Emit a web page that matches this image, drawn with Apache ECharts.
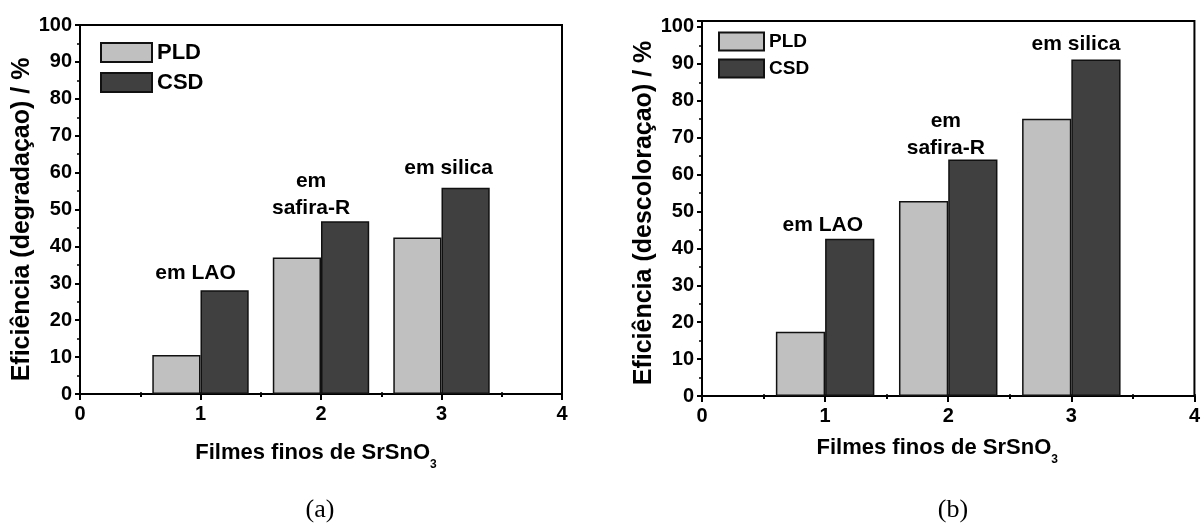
<!DOCTYPE html>
<html>
<head>
<meta charset="utf-8">
<script src="https://cdn.jsdelivr.net/npm/echarts@6/dist/echarts.min.js"></script>
<style>
html, body { margin: 0; padding: 0; background: #fff; }
#main { width: 1203px; height: 530px; }
</style>
</head>
<body>
<div id="main"></div>
<script>
// dados
var positions = [1, 2, 3];
var substrates = ['em LAO', 'em\nsafira-R', 'em silica'];
var pldDegradacao = [10.6, 37.0, 42.4];
var csdDegradacao = [28.1, 46.8, 55.9];
var pldDescoloracao = [17.4, 52.8, 75.1];
var csdDescoloracao = [42.6, 64.1, 91.2];
var xRange = [0, 4];
var yRangeA = [0, 100];
var yRangeB = [0, 101.6];

var FONT = '"Liberation Sans", Arial, sans-serif';
var black = '#000';

function bottomAxis(gridIndex, nameGap, pad) {
    return {
        type: 'value', gridIndex: gridIndex, position: 'bottom',
        min: xRange[0], max: xRange[1], interval: 1,
        axisLine: { show: true, onZero: false, lineStyle: { color: black, width: 2 } },
        axisTick: { show: true, length: 6, lineStyle: { color: black, width: 2 } },
        minorTick: { show: true, splitNumber: 2, length: 3, lineStyle: { color: black, width: 2 } },
        splitLine: { show: false },
        axisLabel: { color: black, fontSize: 20, fontWeight: 'bold', fontFamily: FONT, margin: 10 },
        name: '{m|Filmes finos de SrSnO}{s|3}',
        nameLocation: 'middle',
        nameGap: nameGap,
        nameTextStyle: {
            padding: [0, pad, 0, 0],
            rich: {
                m: { fontSize: 22, fontWeight: 'bold', fontFamily: FONT, color: black, lineHeight: 36 },
                s: { fontSize: 12, fontWeight: 'bold', fontFamily: FONT, color: black, lineHeight: 10, verticalAlign: 'bottom' }
            }
        }
    };
}

function topAxis(gridIndex) {
    return {
        type: 'value', gridIndex: gridIndex, position: 'top',
        min: xRange[0], max: xRange[1], interval: 0.5,
        axisLine: { show: false },
        axisTick: { show: true, length: 2, lineStyle: { color: black, width: 1.5 } },
        axisLabel: { show: false },
        splitLine: { show: false }
    };
}

function leftAxis(gridIndex, range, name, nameGap, pad) {
    return {
        type: 'value', gridIndex: gridIndex,
        min: range[0], max: range[1], interval: 10,
        axisLine: { show: true, onZero: false, lineStyle: { color: black, width: 2 } },
        axisTick: { show: true, length: 5, lineStyle: { color: black, width: 2 } },
        minorTick: { show: true, splitNumber: 2, length: 3, lineStyle: { color: black, width: 1.5 } },
        splitLine: { show: false },
        axisLabel: { color: black, fontSize: 20, fontWeight: 'bold', fontFamily: FONT, margin: 8, showMaxLabel: range[1] % 10 === 0 },
        name: name,
        nameLocation: 'middle',
        nameGap: nameGap,
        nameTextStyle: { fontSize: 25, fontWeight: 'bold', fontFamily: FONT, color: black, padding: [0, pad, 0, 0] }
    };
}

function barSeries(name, xIdx, yIdx, values, color, labelOffsets) {
    var s = {
        name: name, type: 'bar',
        xAxisIndex: xIdx, yAxisIndex: yIdx,
        barWidth: '40%', barGap: '0%',
        itemStyle: { color: color, borderColor: '#111', borderWidth: 1.5 },
        data: positions.map(function (p, i) {
            var d = { value: [p, values[i]] };
            if (labelOffsets) d.label = { offset: labelOffsets[i] };
            return d;
        })
    };
    if (labelOffsets) {
        s.label = {
            show: true, position: 'top', distance: 5,
            formatter: function (p) { return substrates[p.dataIndex]; },
            color: black, fontSize: 21, fontWeight: 'bold', fontFamily: FONT,
            lineHeight: 27, align: 'center'
        };
    }
    return s;
}

var legendText = function (size) {
    return { fontSize: size, fontWeight: 'bold', fontFamily: FONT, color: black };
};

var captionFont = '26px "Liberation Serif", "Times New Roman", serif';

var option = {
    animation: false,
    backgroundColor: '#fff',
    grid: [
        { left: 80, top: 25, width: 482, height: 369, show: true, borderColor: black, borderWidth: 2 },
        { left: 702, top: 21, width: 500, height: 375, show: true, borderColor: black, borderWidth: 2 }
    ],
    xAxis: [bottomAxis(0, 41, 10), topAxis(0), bottomAxis(1, 34, 22), topAxis(1)],
    yAxis: [
        leftAxis(0, yRangeA, 'Eficiência (degradaçao) / %', 43, 20),
        leftAxis(1, yRangeB, 'Eficiência (descoloraçao) / %', 45, 9)
    ],
    legend: [
        {
            orient: 'vertical', left: 100, top: 41.5, padding: 0,
            itemWidth: 51, itemHeight: 19, itemGap: 8, icon: 'rect',
            selectedMode: false, data: ['PLD', 'CSD'], textStyle: legendText(22)
        },
        {
            orient: 'vertical', left: 718, top: 31.5, padding: 0,
            itemWidth: 45, itemHeight: 18, itemGap: 7, icon: 'rect',
            selectedMode: false, data: ['PLD', 'CSD'], textStyle: legendText(19)
        }
    ],
    graphic: [
        { type: 'text', x: 320, y: 510, style: { text: '(a)', align: 'center', verticalAlign: 'middle', font: captionFont, fill: black } },
        { type: 'text', x: 953, y: 510, style: { text: '(b)', align: 'center', verticalAlign: 'middle', font: captionFont, fill: black } }
    ],
    series: [
        barSeries('PLD', 0, 0, pldDegradacao, '#c0c0c0'),
        barSeries('CSD', 0, 0, csdDegradacao, '#404040', [[-29, 1], [-34, 5], [-17, -1]]),
        barSeries('PLD', 2, 1, pldDescoloracao, '#c0c0c0'),
        barSeries('CSD', 2, 1, csdDescoloracao, '#404040', [[-27, 5], [-27, 7], [-20, 3]])
    ]
};

var chart = echarts.init(document.getElementById('main'));
chart.setOption(option);
</script>
</body>
</html>
